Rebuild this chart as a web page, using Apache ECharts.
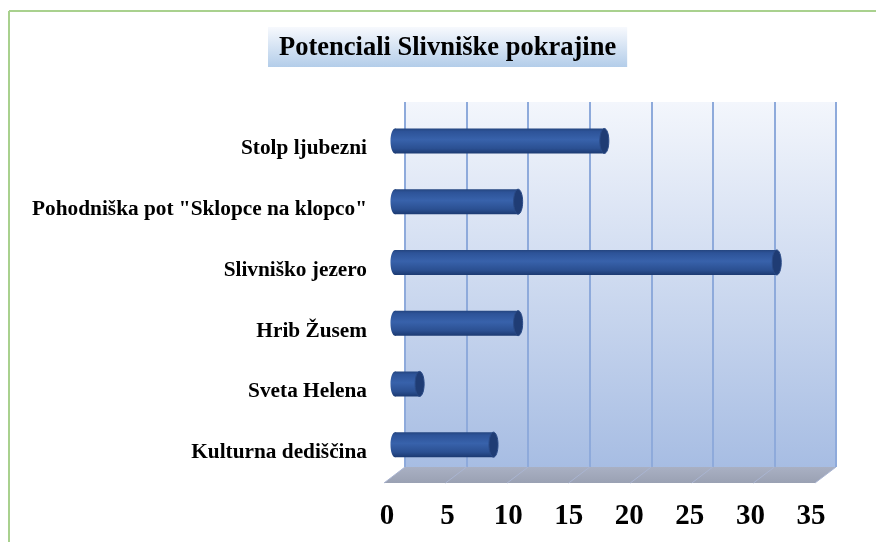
<!DOCTYPE html>
<html><head><meta charset="utf-8">
<script src="https://cdn.jsdelivr.net/npm/echarts@6/dist/echarts.min.js"></script>
<style>html,body{margin:0;padding:0;background:#fff}#c{width:876px;height:542px}</style>
</head><body><div id="c"></div>
<script>
const titleText = 'Potenciali Slivniške pokrajine';
const categories = ['Stolp ljubezni', 'Pohodniška pot "Sklopce na klopco"', 'Slivniško jezero', 'Hrib Žusem', 'Sveta Helena', 'Kulturna dediščina'];
const values = [17, 10, 31, 10, 2, 8];
const axisMin = 0, axisMax = 35, axisStep = 5;

const FONT = '"Liberation Serif", "Times New Roman", serif';
const chart = echarts.init(document.getElementById('c'), null, {renderer: 'canvas'});
const G = echarts.graphic;

const option = {
  animation: false,
  backgroundColor: '#fff',
  title: {
    text: titleText, left: 268, top: 27, padding: [8, 11, 5, 11],
    backgroundColor: new G.LinearGradient(0, 0, 0, 1, [{offset: 0, color: '#f7f9fd'}, {offset: 1, color: '#b3cde9'}]),
    textStyle: {fontFamily: FONT, fontSize: 26.5, fontWeight: 'bold', color: '#000', lineHeight: 27}
  },
  grid: [
    {left: 405, right: 40, top: 102, bottom: 75, show: true, borderWidth: 0,
     backgroundColor: new G.LinearGradient(0, 0, 0, 1, [{offset: 0, color: '#f3f6fc'}, {offset: 1, color: '#a7bde3'}])},
    {left: 395, width: 431, top: 110.6, bottom: 67},
    {left: 384, right: 61, top: 118.6, bottom: 59},
    {left: 387, right: 65, top: 118.6, bottom: 59}
  ],
  xAxis: [
    {gridIndex: 0, type: 'value', min: axisMin, max: axisMax, interval: axisStep,
     axisLine: {show: false}, axisTick: {show: false}, axisLabel: {show: false},
     splitLine: {show: true, lineStyle: {color: '#8eaadb', width: 2}}},
    {gridIndex: 1, type: 'value', min: axisMin, max: axisMax, interval: axisStep, show: false},
    {gridIndex: 2, type: 'value', min: axisMin, max: axisMax, interval: axisStep, show: false},
    {gridIndex: 3, type: 'value', min: axisMin, max: axisMax, interval: axisStep,
     axisLine: {show: false}, axisTick: {show: false}, splitLine: {show: false},
     axisLabel: {margin: 19, fontFamily: FONT, fontSize: 29, fontWeight: 'bold', color: '#000'}}
  ],
  yAxis: [
    {gridIndex: 0, type: 'category', data: categories, inverse: true, show: false},
    {gridIndex: 1, type: 'category', data: categories, inverse: true, show: false},
    {gridIndex: 2, type: 'category', data: categories, inverse: true,
     axisLine: {show: false}, axisTick: {show: false}, splitLine: {show: false},
     axisLabel: {margin: 17, fontFamily: FONT, fontSize: 21.3, fontWeight: 'bold', color: '#000'}},
    {gridIndex: 3, type: 'category', data: categories, inverse: true, show: false}
  ],
  series: [{
    type: 'custom',
    xAxisIndex: 1, yAxisIndex: 1,
    encode: {x: 0, y: 1},
    data: values.map((v, i) => [v, i]),
    renderItem: function (params, api) {
      const v = api.value(0), c = api.value(1);
      const p0 = api.coord([0, c]);
      const p1 = api.coord([v, c]);
      const h = 25, rx = 4.5, ry = h / 2;
      const y = p0[1] - ry;
      const bodyFill = new G.LinearGradient(0, 0, 0, 1, [
        {offset: 0, color: '#24457f'}, {offset: 0.12, color: '#2d5398'},
        {offset: 0.45, color: '#3862ab'}, {offset: 0.8, color: '#2b5092'}, {offset: 1, color: '#1c3a72'}]);
      return {
        type: 'group',
        children: [
          {type: 'ellipse', shape: {cx: p0[0], cy: p0[1], rx: rx, ry: ry}, style: {fill: bodyFill}},
          {type: 'rect', shape: {x: p0[0], y: y, width: Math.max(p1[0] - p0[0], 0), height: h}, style: {fill: bodyFill}},
          {type: 'ellipse', shape: {cx: p1[0], cy: p1[1], rx: rx, ry: ry},
           style: {fill: '#1f3c74', stroke: '#2a4a86', lineWidth: 1}}
        ]
      };
    }
  }]
};
chart.setOption(option);

// floor (3D base) between back wall and front plane
function px(axisIdx, v) { return chart.convertToPixel({xAxisIndex: axisIdx}, v); }
const backY = 542 - 75, frontY = 542 - 59;
const floor = [];
floor.push({type: 'polygon', z: -1, shape: {points: [[px(0, axisMin), backY], [px(0, axisMax), backY], [px(2, axisMax), frontY], [px(2, axisMin), frontY]]},
  style: {fill: new G.LinearGradient(0, 0, 0, 1, [{offset: 0, color: '#a9b0c3'}, {offset: 1, color: '#9aa1b3'}])}});
for (let t = axisMin; t <= axisMax; t += axisStep) {
  floor.push({type: 'line', z: 0, shape: {x1: px(0, t), y1: backY, x2: px(2, t), y2: frontY}, style: {stroke: '#aab5d2', lineWidth: 1}});
}
floor.push({type: 'line', shape: {x1: 9, y1: 11, x2: 876, y2: 11}, style: {stroke: '#a9d18e', lineWidth: 2}});
floor.push({type: 'line', shape: {x1: 9, y1: 11, x2: 9, y2: 542}, style: {stroke: '#a9d18e', lineWidth: 2}});
chart.setOption({graphic: floor});
</script></body></html>
